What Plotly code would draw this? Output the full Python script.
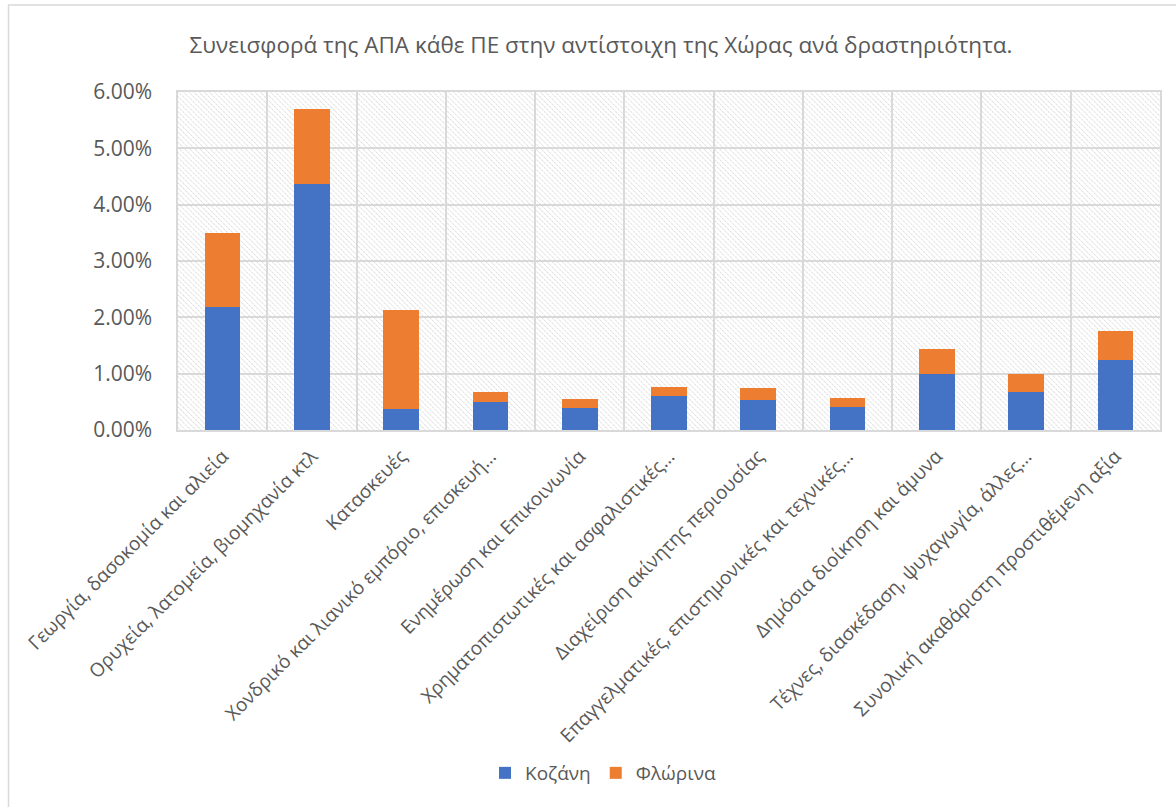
import base64
import plotly.graph_objects as go

categories = [
    "Γεωργία, δασοκομία και αλιεία",
    "Ορυχεία, λατομεία, βιομηχανία κτλ",
    "Κατασκευές",
    "Χονδρικό και λιανικό εμπόριο, επισκευή…",
    "Ενημέρωση και Επικοινωνία",
    "Χρηματοπιστωτικές και ασφαλιστικές…",
    "Διαχείριση ακίνητης περιουσίας",
    "Επαγγελματικές, επιστημονικές και τεχνικές…",
    "Δημόσια διοίκηση και άμυνα",
    "Τέχνες, διασκέδαση, ψυχαγωγία, άλλες…",
    "Συνολική ακαθάριστη προστιθέμενη αξία",
]
kozani = [2.18, 4.37, 0.37, 0.50, 0.39, 0.61, 0.54, 0.40, 1.00, 0.67, 1.25]
florina = [1.32, 1.32, 1.76, 0.18, 0.16, 0.16, 0.20, 0.17, 0.44, 0.32, 0.50]
series_names = ["Κοζάνη", "Φλώρινα"]
title_text = "Συνεισφορά της ΑΠΑ κάθε ΠΕ στην αντίστοιχη της Χώρας ανά δραστηριότητα."

W, H = 1176, 807
L, R, T, B = 178, 16, 92, 377
PW, PH = W - L - R, H - T - B
FONT = "Open Sans"
GRAY = "#595959"
GRID = "#d9d9d9"

svg = (
    f"<svg xmlns='http://www.w3.org/2000/svg' width='{PW}' height='{PH}' "
    f"viewBox='0 0 {PW} {PH}' preserveAspectRatio='none'>"
    "<defs><pattern id='p' width='3.6' height='3.6' patternUnits='userSpaceOnUse' "
    "patternTransform='rotate(-45)'>"
    "<line x1='0' y1='0' x2='0' y2='3.6' stroke='#c9c9c9' stroke-width='1.1' "
    "stroke-dasharray='1.4,0.8'/></pattern></defs>"
    "<rect width='100%' height='100%' fill='white'/>"
    "<rect width='100%' height='100%' fill='url(#p)'/></svg>"
)
src = "data:image/svg+xml;base64," + base64.b64encode(svg.encode()).decode()

fig = go.Figure()
fig.add_trace(go.Bar(x=categories, y=kozani, name=series_names[0],
                     marker=dict(color="#4472C4", line=dict(width=0)), width=0.4))
fig.add_trace(go.Bar(x=categories, y=florina, name=series_names[1],
                     marker=dict(color="#ED7D31", line=dict(width=0)), width=0.4))


def px_x(p):
    return (p - L) / PW


def px_y(p):
    return (H - B - p) / PH


# chart-area border
fig.add_shape(type="rect", xref="paper", yref="paper",
              x0=px_x(8.5), x1=px_x(1210), y0=px_y(5), y1=px_y(840),
              line=dict(color=GRID, width=1.5), fillcolor="rgba(0,0,0,0)", layer="below")

fig.add_layout_image(dict(source=src, xref="paper", yref="paper", x=0, y=1,
                          sizex=1, sizey=1, sizing="stretch", layer="below",
                          xanchor="left", yanchor="top"))

fig.update_layout(
    width=W, height=H,
    margin=dict(l=L, r=R, t=T, b=B, autoexpand=False),
    barmode="stack",
    paper_bgcolor="white",
    plot_bgcolor="rgba(0,0,0,0)",
    font=dict(family=FONT, color=GRAY, size=18),
    title=dict(text=title_text, x=601 / W, xref="container", xanchor="center",
               y=1 - 45 / H, yref="container", yanchor="middle",
               font=dict(family=FONT, size=22.5, color=GRAY)),
    legend=dict(orientation="h", x=603 / W, xref="container", xanchor="center",
                y=1 - 773 / H, yref="container", yanchor="middle",
                font=dict(size=19, color=GRAY), traceorder="normal"),
    showlegend=True,
)
fig.update_xaxes(type="category", tickson="boundaries", showgrid=True, gridcolor=GRID,
                 gridwidth=1.5, ticks="", tickangle=-45, showline=True, linecolor=GRID,
                 linewidth=1.5, mirror=True, tickfont=dict(size=19, color=GRAY),
                 ticklabelstandoff=6, automargin=False)
fig.update_yaxes(range=[0, 6], dtick=1, tickformat=".2f", ticksuffix="%",
                 showgrid=True, gridcolor=GRID, gridwidth=1.5, zeroline=False,
                 showline=True, linecolor=GRID, linewidth=1.5, mirror=True,
                 ticks="", ticklabelstandoff=20, tickfont=dict(size=21, color=GRAY),
                 automargin=False)

fig.write_html("out.html", config={"displayModeBar": False},
               post_script="document.body.style.margin='0';")
